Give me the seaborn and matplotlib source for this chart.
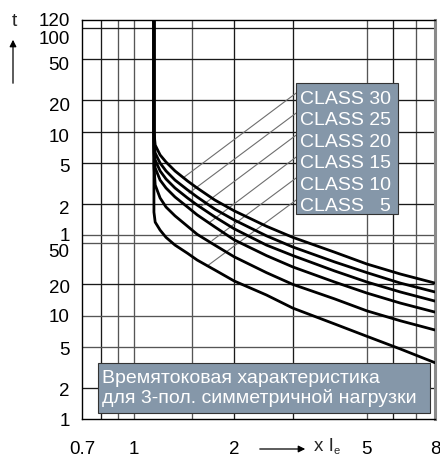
import pandas as pd
import matplotlib.pyplot as plt
import matplotlib.transforms as mtransforms
from matplotlib.patches import Rectangle
import seaborn as sns

# multiples of Ie at which the curves were read (first two: vertical branch at 1.15 Ie)
current = [1.15, 1.15, 1.16, 1.2, 1.25, 1.33, 1.45, 1.55, 1.75, 2.0, 2.5, 3.0, 4.0, 5.0, 6.3, 8.0]

# tripping time in seconds for each trip class
class_30 = [7200, 595, 445, 357, 305, 250, 200, 171, 131, 103, 73, 57, 41, 31.5, 25.2, 20.6]
class_25 = [7200, 498, 373, 298, 250, 204, 164, 140, 107, 84, 59, 46, 33, 26, 20.6, 16.9]
class_20 = [7200, 436, 319, 250, 209, 171, 137, 117, 90, 69, 48, 38, 27, 21.1, 16.9, 13.8]
class_15 = [7200, 381, 267, 204, 171, 140, 112, 94, 72, 54, 38, 29.5, 21.1, 16.5, 13.2, 10.8]
class_10 = [7200, 285, 183, 137, 112, 92, 73, 61, 48, 37, 26, 20, 14.5, 11.1, 8.9, 7.25]
class_5 = [7200, 100, 80, 67, 57, 48, 40, 34.4, 27.6, 21.6, 15.8, 11.8, 8.3, 6.3, 4.75, 3.5]

class_names = ["CLASS 30", "CLASS 25", "CLASS 20", "CLASS 15", "CLASS 10", "CLASS   5"]

# axis ticks (y in seconds, labelled in s below 1 min and in min above)
x_ticks = [0.7, 1, 2, 5, 8]
x_labels = ["0.7", "1", "2", "5", "8"]
y_ticks = [1, 2, 5, 10, 20, 50, 60, 120, 300, 600, 1200, 3000, 6000, 7200]
y_labels = ["1", "2", "5", "10", "20", "50", "1", "2", "5", "10", "20", "50", "100", "120"]
x_grid = [0.8, 0.9, 1, 1.5, 2, 3, 5, 6, 7]
y_grid = [2, 5, 10, 20, 50, 60, 120, 300, 600, 1200, 3000, 6000]

# leader lines: point on the curve -> left edge of the label box
leader_x0 = [1.406, 1.465, 1.581, 1.693, 1.717, 1.658]
leader_t0 = [214, 153, 112, 80, 53, 30]
leader_x1 = 3.07
leader_t1 = [1417, 908, 556, 341, 214, 131]

df = pd.DataFrame({
    "current": current * 6,
    "time": class_30 + class_25 + class_20 + class_15 + class_10 + class_5,
    "cls": sum([[n] * len(current) for n in class_names], []),
})

sns.set_theme(style="white")
plt.rcParams["font.family"] = ["Liberation Sans", "DejaVu Sans"]

W, H = 440, 457
fig = plt.figure(figsize=(W / 100, H / 100), dpi=100)
ax = fig.add_axes([82 / W, 1 - 419 / H, 353 / W, 399 / H])
ax.set_xscale("log")
ax.set_yscale("log")

box_color = "#8597a9"

# grid
for v in x_grid:
    ax.axvline(v, color="#555555" if v in (1, 1.5, 5, 7, 0.9) else "#1a1a1a", lw=0.95, zorder=1)
for v in y_grid:
    ax.axhline(v, color="#555555" if v in (60, 50, 10, 5) else "#1a1a1a", lw=0.95, zorder=1)

# leader lines
for x0, t0, t1 in zip(leader_x0, leader_t0, leader_t1):
    ax.plot([x0, leader_x1], [t0, t1], color="#6e6e6e", lw=0.8, zorder=2)

sns.lineplot(data=df, x="current", y="time", hue="cls", palette=["black"] * 6,
             estimator=None, sort=False, legend=False, lw=2.0, ax=ax, zorder=3)

ax.set_xlim(0.7, 8)
ax.set_ylim(1, 7200)
ax.set_xticks(x_ticks, labels=x_labels)
ax.set_yticks(y_ticks, labels=y_labels)
ax.minorticks_off()
ax.tick_params(axis="both", length=0, labelsize=13.5, colors="black")
ax.tick_params(axis="x", pad=16)
ax.tick_params(axis="y", pad=9)
ax.set_xlabel("")
ax.set_ylabel("")

# spread crowded labels a little
for lab, dy in zip(ax.get_yticklabels(), [0, 2, 2, 0, 2, 7, -1, 4, 3, 4, 4, 4, 9, 0]):
    lab.set_transform(lab.get_transform() + mtransforms.ScaledTranslation(0, -dy / 100, fig.dpi_scale_trans))

for side in ["left", "bottom", "top"]:
    ax.spines[side].set_color("black")
    ax.spines[side].set_linewidth(1.0)
ax.spines["right"].set_color("#8a8a8a")
ax.spines["right"].set_linewidth(2.2)

# class label box
ax.add_patch(Rectangle(((296 - 82) / 353, (419 - 214) / 399), 102 / 353, 131 / 399,
                       transform=ax.transAxes, facecolor=box_color, edgecolor="#333333",
                       lw=0.8, zorder=5))
for i, name in enumerate(class_names):
    ax.text((300 - 82) / 353, (419 - (104 + 21.4 * i)) / 399, name, transform=ax.transAxes,
            color="white", fontsize=14, ha="left", va="baseline", zorder=6)

# description box
ax.add_patch(Rectangle(((98 - 82) / 353, (419 - 413) / 399), 332 / 353, 50 / 399,
                       transform=ax.transAxes, facecolor=box_color, edgecolor="#333333",
                       lw=0.8, zorder=5))
ax.text((102 - 82) / 353, (419 - 383) / 399, "Времятоковая характеристика",
        transform=ax.transAxes, color="white", fontsize=14, va="baseline", zorder=6)
ax.text((102 - 82) / 353, (419 - 403) / 399, "для 3-пол. симметричной нагрузки",
        transform=ax.transAxes, color="white", fontsize=14, va="baseline", zorder=6)

# axis captions with arrows
fig.text(14 / W, 1 - 22 / H, "t", fontsize=14, ha="center", va="center")
ax.annotate("", xy=(13 / W, 1 - 37 / H), xytext=(13 / W, 1 - 86 / H),
            xycoords="figure fraction", textcoords="figure fraction",
            arrowprops=dict(arrowstyle="-|>", color="black", lw=0.9, mutation_scale=10))
ax.annotate("", xy=(308 / W, 1 - 449 / H), xytext=(257 / W, 1 - 449 / H),
            xycoords="figure fraction", textcoords="figure fraction",
            arrowprops=dict(arrowstyle="-|>", color="black", lw=0.9, mutation_scale=10))
fig.text(314 / W, 1 - 451 / H, "x I", fontsize=13.5, ha="left", va="baseline")
fig.text(334 / W, 1 - 454 / H, "e", fontsize=8, ha="left", va="baseline")

fig.savefig("out.png", dpi=100)
